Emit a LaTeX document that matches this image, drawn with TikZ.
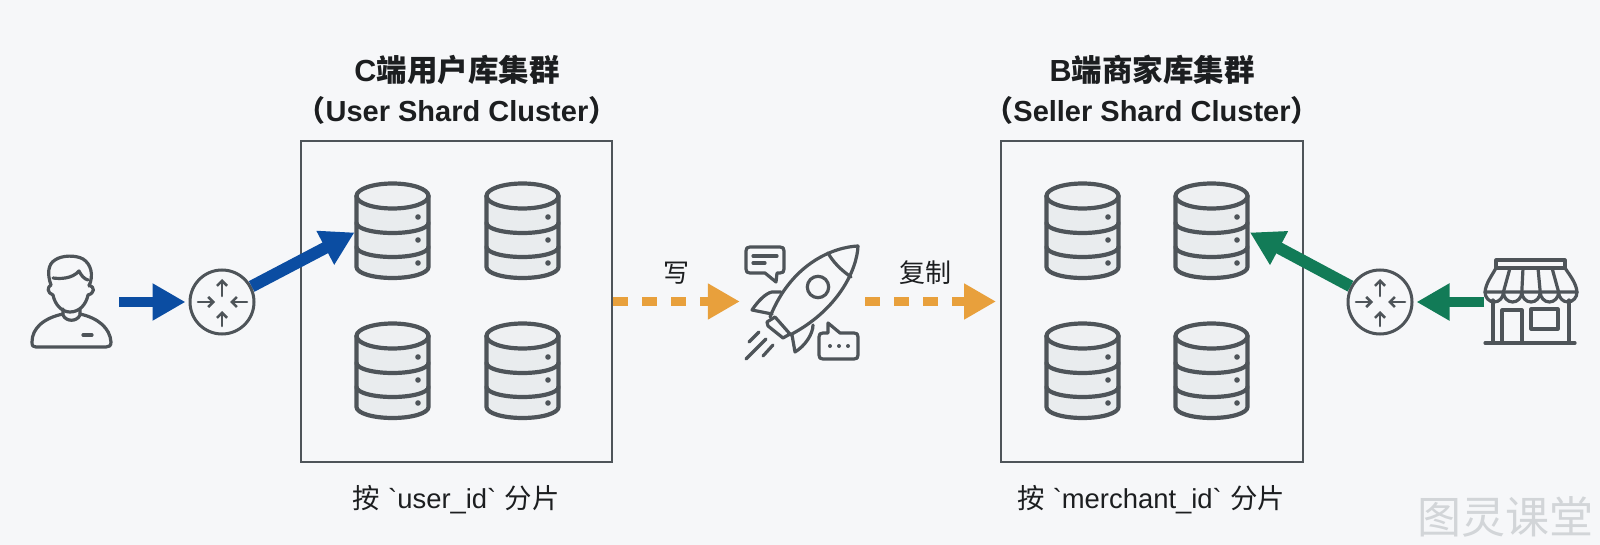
\documentclass[tikz,border=0pt]{standalone}
\usepackage{fontspec}
\usetikzlibrary{arrows.meta}
\newfontfamily\lat{Liberation Sans}
\newfontfamily\cjk{Noto Sans CJK SC}
\definecolor{bgc}{HTML}{F6F7F9}
\definecolor{ink}{HTML}{4E5459}
\definecolor{dbfill}{HTML}{E9ECEE}
\definecolor{bluec}{HTML}{0B4DA2}
\definecolor{greenc}{HTML}{127B57}
\definecolor{orangec}{HTML}{E8A03C}
\definecolor{txt}{HTML}{1C1E20}
\definecolor{mark}{HTML}{D2D5D8}
\tikzset{
  x=1pt,y=-1pt,
  icon/.style={draw=ink,line width=3.2pt,line cap=round,line join=round},
  clusterbox/.style={draw=ink,line width=2pt,fill=none,inner sep=0pt},
  routernode/.style={circle,draw=ink,line width=3pt,minimum size=64pt,inner sep=0pt},
  headline/.style={font=\fontsize{29}{29}\selectfont\bfseries,text=txt,inner sep=0pt,anchor=center},
  headtop/.style={headline,font=\fontsize{30.5}{30.5}\selectfont\bfseries},
  capline/.style={font=\fontsize{27.4}{27.4}\selectfont,text=txt,inner sep=0pt,anchor=center},
  flowlabel/.style={font=\fontsize{26}{26}\selectfont,text=txt,inner sep=0pt,anchor=center},
  solidflow/.style={line width=10.5pt,-{Triangle[length=33pt,width=35pt]}},
  slantflow/.style={line width=12pt,-{Triangle[length=33pt,width=36pt]}},
  dashflow/.style={draw=orangec,line width=9pt,dash pattern=on 15pt off 14pt,-{Triangle[length=32pt,width=34pt]}},
  pics/dbicon/.style={code={
    \draw[icon,line width=4.2pt,fill=dbfill] (-36,-35) -- (-36,36) arc[start angle=180,end angle=0,x radius=36,y radius=11] -- (36,-35);
    \draw[icon,line width=4.2pt,fill=dbfill!60!bgc] (0,-35) ellipse[x radius=36,y radius=12.5];
    \draw[icon,line width=4.2pt] (-36,-8) arc[start angle=180,end angle=0,x radius=36,y radius=10];
    \draw[icon,line width=4.2pt] (-36,16) arc[start angle=180,end angle=0,x radius=36,y radius=10];
    \foreach \yy in {-14,9,32} \fill[ink] (25.5,\yy) circle[radius=2.8];
  }},
  pics/routerarrows/.style={code={
    \foreach \xa/\ya/\xb/\yb in {0/-6/0/-23, 0/24/0/9, -24/0/-7/0, 25/0/8/0}
      \draw[ink,line width=2.6pt,line cap=round,-{Straight Barb[length=5pt,width=10pt,line width=2.6pt]}] (\xa,\ya) -- (\xb,\yb);
  }},
}
\begin{document}
\begin{tikzpicture}
\useasboundingbox[fill=bgc] (0,0) rectangle (1600,545);
% cluster boxes
\node[clusterbox,minimum width=311pt,minimum height=320pt] (box1) at (456.5,301.5) {};
\node[clusterbox,minimum width=302pt,minimum height=320pt] (box2) at (1152,301.5) {};
% titles
\node[headtop] (t1a) at (457,70) {{\lat C}{\cjk 端用户库集群}};
\node[headline] (t1b) at (457,110) {{\cjk （}{\lat User Shard Cluster}{\cjk ）}};
\node[headtop] (t2a) at (1152,70) {{\lat B}{\cjk 端商家库集群}};
\node[headline] (t2b) at (1152,110) {{\cjk （}{\lat Seller Shard Cluster}{\cjk ）}};
\node[capline] (c1) at (456,500) {{\cjk 按} {\lat `user\_id`} {\cjk 分片}};
\node[capline] (c2) at (1151,500) {{\cjk 按} {\lat `merchant\_id`} {\cjk 分片}};
% databases
\pic at (392.5,231) {dbicon};
\pic at (522.5,231) {dbicon};
\pic at (392.5,371) {dbicon};
\pic at (522.5,371) {dbicon};
\pic at (1082.5,231) {dbicon};
\pic at (1211.5,231) {dbicon};
\pic at (1082.5,371) {dbicon};
\pic at (1211.5,371) {dbicon};
\coordinate (dbA) at (354.5,232.5);
\coordinate (dbB) at (1250,232.5);
% routers
\node[routernode] (r1) at (222,302) {};
\node[routernode] (r2) at (1380,302) {};
\pic at (222,302) {routerarrows};
\pic at (1380,302) {routerarrows};
% user
\draw[icon] (51,285) .. controls (47,274) and (48,264) .. (55,260) .. controls (62,255) and (76,255) .. (83,259) .. controls (91,264) and (94,275) .. (89,286);
\draw[icon] (53,278) .. controls (60,279) and (72,279) .. (79,271) .. controls (81,275) and (84,279) .. (88,280);
\draw[icon] (51,285) .. controls (47,287) and (47,293) .. (53,295) .. controls (55,305) and (62,312) .. (70,312) .. controls (79,312) and (86,305) .. (88,295) .. controls (95,293) and (95,287) .. (89,285);
\draw[icon] (63,309) -- (63,315) .. controls (66,322) and (77,322) .. (80,315) -- (80,309);
\draw[icon] (63,314) .. controls (44,318) and (32,328) .. (32,342) .. controls (32,346) and (33,347) .. (36,347) -- (106,347) .. controls (109,347) and (111,346) .. (111,342) .. controls (110,328) and (98,318) .. (80,314);
\draw[icon] (83,335) -- (92,335);
\coordinate (userOut) at (119,302);
% store
\draw[icon] (1496,268) -- (1496,260) -- (1565,260) -- (1565,268) -- cycle;
\draw[icon] (1496,268) .. controls (1491,277) and (1486,283) .. (1485,292) -- (1577,292) .. controls (1576,283) and (1571,277) .. (1565,268);
\draw[icon] (1485,292) arc[start angle=180,end angle=0,x radius=9.2,y radius=10] arc[start angle=180,end angle=0,x radius=9.2,y radius=10] arc[start angle=180,end angle=0,x radius=9.2,y radius=10] arc[start angle=180,end angle=0,x radius=9.2,y radius=10] arc[start angle=180,end angle=0,x radius=9.2,y radius=10];
\foreach \xa/\xb in {1510/1503.4,1523/1521.8,1538/1540.2,1552/1558.6} \draw[icon] (\xa,268) -- (\xb,292);
\draw[icon] (1493,300) -- (1493,343);
\draw[icon] (1569,300) -- (1569,343);
\draw[icon] (1485,343) -- (1575,343);
\draw[icon] (1502,343) -- (1502,310) -- (1522,310) -- (1522,343);
\draw[icon] (1531,309) rectangle (1558,329);
\coordinate (storeOut) at (1484,302);
% rocket
\node[minimum width=120pt,minimum height=10pt,inner sep=0pt] (rocket) at (800,301.5) {};
\draw[icon] (858,246) .. controls (835,247) and (792,262) .. (770,317);
\draw[icon] (858,246) .. controls (857,270) and (838,310) .. (790,335);
\draw[icon] (828,253) .. controls (833,262) and (841,270) .. (851,277);
\draw[icon] (818,287) circle[radius=10.7];
\draw[icon] (781,292) -- (772,292) .. controls (766,293) and (758,301) .. (752,310) -- (772,314);
\draw[icon] (813,325) .. controls (813,334) and (805,346) .. (795,352) -- (792,335);
\draw[icon] (775,317) -- (767,322) -- (768,326) -- (783,338) -- (790,334) -- cycle;
\draw[icon] (749,342) -- (759,332);
\draw[icon] (746,359) -- (766,339);
\draw[icon] (763,356) -- (773,345);
\draw[icon] (750,247) -- (780,247) .. controls (783,247) and (784,248) .. (784,251) -- (784,269) .. controls (784,272) and (783,273) .. (780,273) -- (777,273) -- (776,282) -- (765,273) -- (750,273) .. controls (747,273) and (746,272) .. (746,269) -- (746,251) .. controls (746,248) and (747,247) .. (750,247) -- cycle;
\draw[icon] (753,256) -- (777,256);
\draw[icon] (753,263) -- (765,263);
\draw[icon] (823,333) -- (828,333) -- (828,323) -- (840,333) -- (854,333) .. controls (857,333) and (858,334) .. (858,337) -- (858,355) .. controls (858,358) and (857,359) .. (854,359) -- (823,359) .. controls (820,359) and (819,358) .. (819,355) -- (819,337) .. controls (819,334) and (820,333) .. (823,333) -- cycle;
\foreach \xx in {830,839,848} \fill[ink] (\xx,346) circle[radius=2];
% connectors
\draw[bluec,solidflow,shorten >=3pt] (userOut) -- (r1);
\draw[bluec,slantflow] (r1) -- (dbA);
\draw[greenc,solidflow,shorten >=3pt] (storeOut) -- (r2);
\draw[greenc,slantflow] (r2) -- (dbB);
\draw[dashflow] (box1.east) -- (rocket.west);
\draw[dashflow,shorten <=5pt,shorten >=4pt] (rocket.east) -- (box2.west);
% labels
\node[flowlabel] (lw) at (676,273) {{\cjk 写}};
\node[flowlabel] (lc) at (925,273) {{\cjk 复制}};
\node[font=\fontsize{44}{44}\selectfont,text=mark,inner sep=0pt] (wm) at (1505,517) {{\cjk 图灵课堂}};
\end{tikzpicture}
\end{document}
